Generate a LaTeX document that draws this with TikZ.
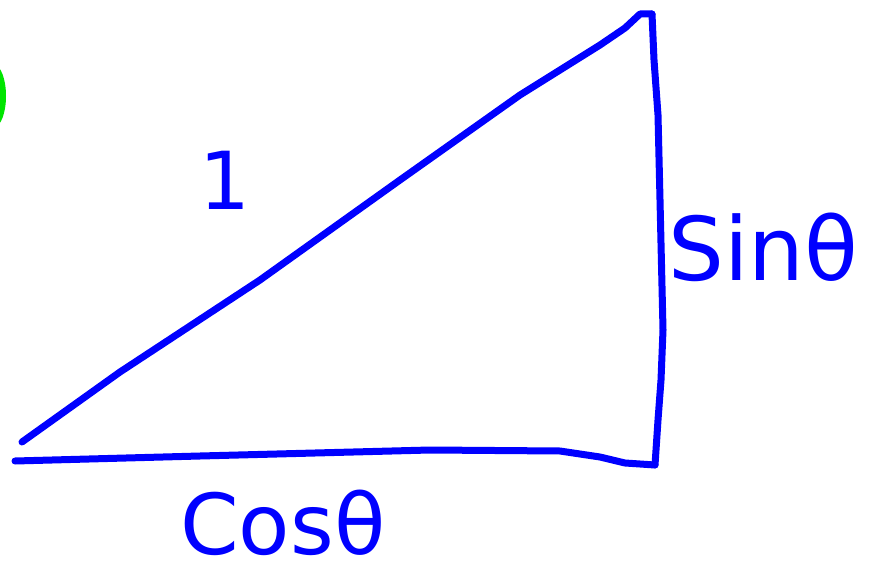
\documentclass[tikz,border=0pt]{standalone}
\usepackage{fontspec}
\newfontfamily\handfont{DejaVu Sans}
\begin{document}
\begin{tikzpicture}[x=1pt,y=-1pt,
  pen/.style={draw=blue,line width=7pt,line cap=round,line join=round},
  lbl/.style={text=blue,inner sep=0pt}]
\useasboundingbox (0,0) rectangle (869,577);
\clip (0,0) rectangle (869,577);
\fill[green!90!black] (-6,96) ellipse [x radius=12, y radius=31];
\coordinate (A) at (22,442);
\coordinate (B) at (652,14);
\coordinate (C) at (655,465);
\coordinate (D) at (15,461);
% hypotenuse
\draw[pen] (A) -- (120,372) -- (260,280) -- (400,180) -- (520,95) -- (600,45) -- (625,28) -- (640,14) -- (B);
% vertical side
\draw[pen] (B) -- (654,60) -- (658,115) -- (660,200) -- (663,330) -- (661,380) -- (658,420) -- (C);
% base
\draw[pen] (D) -- (200,456) -- (430,450) -- (560,451) -- (600,457) -- (625,463) -- (C);
\node[lbl,font=\handfont\fontsize{80}{84}\selectfont,anchor=base] (one) at (225,210) {1};
\node[lbl,font=\handfont\fontsize{88}{92}\selectfont,anchor=base west] (sin) at (668,280) {Sinθ};
\node[lbl,font=\handfont\fontsize{84}{90}\selectfont,anchor=base west] (cos) at (180,554) {Cosθ};
\end{tikzpicture}
\end{document}
